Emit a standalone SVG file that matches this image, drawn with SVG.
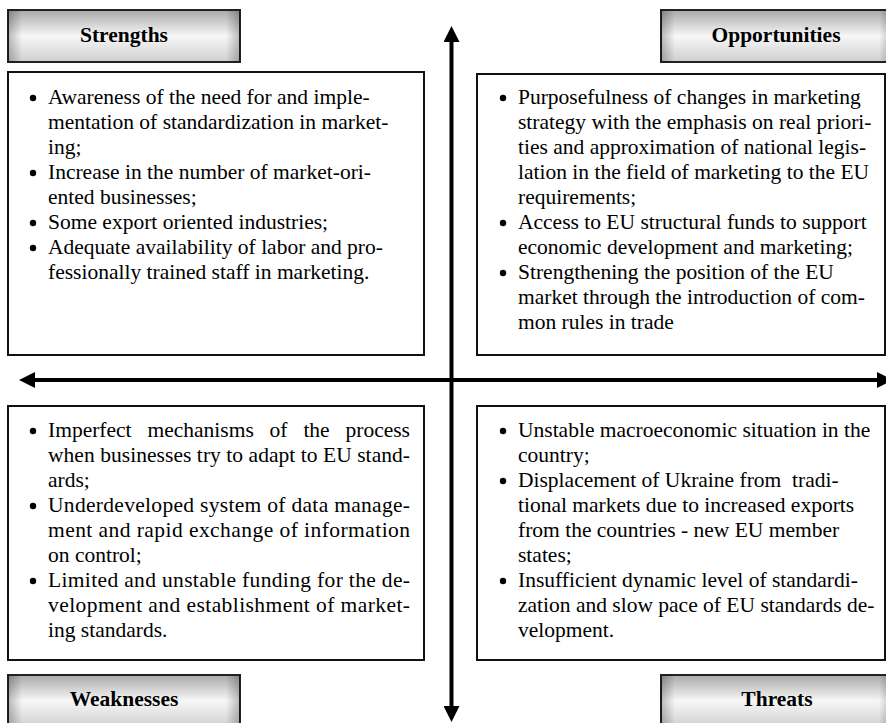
<svg xmlns="http://www.w3.org/2000/svg" width="886" height="723" viewBox="0 0 886 723">
<style>
.box{fill:#fff;stroke:#111;stroke-width:2}
.hdr{fill:url(#hg);stroke:#222;stroke-width:2}
.ht{font-family:"Liberation Serif","Times New Roman",serif;font-size:21.5px;font-weight:bold;fill:#000;text-anchor:middle}
.t{font-family:"Liberation Serif","Times New Roman",serif;font-size:21.5px;fill:#000}
.ax{stroke:#000;stroke-width:4;fill:none}
</style>
<defs>
<linearGradient id="hg" x1="0" y1="0" x2="0" y2="1">
<stop offset="0" stop-color="#a9a9a9"/>
<stop offset="0.5" stop-color="#f7f7f7"/>
<stop offset="1" stop-color="#cfcfcf"/>
</linearGradient>
<linearGradient id="hs" x1="0" y1="0" x2="1" y2="0">
<stop offset="0" stop-color="#000" stop-opacity="0.25"/>
<stop offset="0.06" stop-color="#000" stop-opacity="0"/>
<stop offset="0.94" stop-color="#000" stop-opacity="0"/>
<stop offset="1" stop-color="#000" stop-opacity="0.25"/>
</linearGradient>
<marker id="ah" viewBox="0 0 16 16" refX="0" refY="8" markerWidth="16" markerHeight="16" markerUnits="userSpaceOnUse" orient="auto-start-reverse">
<path d="M0,0 L16,8 L0,16 z" fill="#000"/>
</marker>
<circle id="b" r="3.2" fill="#000"/>
</defs>
<rect width="886" height="723" fill="#fff"/>

<g id="connectors">
<line class="ax" x1="451.5" y1="42" x2="451.5" y2="706" marker-start="url(#ah)" marker-end="url(#ah)"/>
<line class="ax" x1="35" y1="380" x2="877" y2="380" marker-start="url(#ah)" marker-end="url(#ah)"/>
</g>

<g id="strengths-header">
<rect class="hdr" x="8" y="10" width="232" height="52"/>
<rect x="8" y="10" width="232" height="52" fill="url(#hs)"/>
<text class="ht" x="124" y="42">Strengths</text>
</g>
<g id="opportunities-header">
<rect class="hdr" x="661" y="10" width="232" height="52"/>
<rect x="661" y="10" width="232" height="52" fill="url(#hs)"/>
<text class="ht" x="776" y="42">Opportunities</text>
</g>
<g id="weaknesses-header">
<rect class="hdr" x="8" y="675" width="232" height="52"/>
<rect x="8" y="675" width="232" height="52" fill="url(#hs)"/>
<text class="ht" x="124" y="706">Weaknesses</text>
</g>
<g id="threats-header">
<rect class="hdr" x="661" y="675" width="232" height="52"/>
<rect x="661" y="675" width="232" height="52" fill="url(#hs)"/>
<text class="ht" x="777" y="706">Threats</text>
</g>

<g id="strengths">
<rect class="box" x="8" y="72" width="416" height="283"/>
<use href="#b" x="33" y="98"/>
<use href="#b" x="33" y="173"/>
<use href="#b" x="33" y="223"/>
<use href="#b" x="33" y="248"/>
<text class="t" x="48" y="104">Awareness of the need for and imple-</text>
<text class="t" x="48" y="129">mentation of standardization in market-</text>
<text class="t" x="48" y="154">ing;</text>
<text class="t" x="48" y="179">Increase in the number of market-ori-</text>
<text class="t" x="48" y="204">ented businesses;</text>
<text class="t" x="48" y="229">Some export oriented industries;</text>
<text class="t" x="48" y="254">Adequate availability of labor and pro-</text>
<text class="t" x="48" y="279">fessionally trained staff in marketing.</text>
</g>

<g id="opportunities">
<rect class="box" x="477" y="74" width="408" height="281"/>
<use href="#b" x="503" y="98"/>
<use href="#b" x="503" y="223"/>
<use href="#b" x="503" y="273"/>
<text class="t" x="518" y="104">Purposefulness of changes in marketing</text>
<text class="t" x="518" y="129">strategy with the emphasis on real priori-</text>
<text class="t" x="518" y="154">ties and approximation of national legis-</text>
<text class="t" x="518" y="179">lation in the field of marketing to the EU</text>
<text class="t" x="518" y="204">requirements;</text>
<text class="t" x="518" y="229">Access to EU structural funds to support</text>
<text class="t" x="518" y="254">economic development and marketing;</text>
<text class="t" x="518" y="279">Strengthening the position of the EU</text>
<text class="t" x="518" y="304">market through the introduction of com-</text>
<text class="t" x="518" y="329">mon rules in trade</text>
</g>

<g id="weaknesses">
<rect class="box" x="8" y="406" width="416" height="254"/>
<use href="#b" x="33" y="431"/>
<use href="#b" x="33" y="506"/>
<use href="#b" x="33" y="581"/>
<text class="t" y="437"><tspan x="48">Imperfect</tspan><tspan x="147.5">mechanisms</tspan><tspan x="269.6">of</tspan><tspan x="303.4">the</tspan><tspan x="345.5">process</tspan></text>
<text class="t" x="48" y="462" textLength="362" lengthAdjust="spacing">when businesses try to adapt to EU stand-</text>
<text class="t" x="48" y="487">ards;</text>
<text class="t" x="48" y="512" textLength="362" lengthAdjust="spacing">Underdeveloped system of data manage-</text>
<text class="t" x="48" y="537" textLength="362" lengthAdjust="spacing">ment and rapid exchange of information</text>
<text class="t" x="48" y="562">on control;</text>
<text class="t" x="48" y="587" textLength="362" lengthAdjust="spacing">Limited and unstable funding for the de-</text>
<text class="t" x="48" y="612" textLength="362" lengthAdjust="spacing">velopment and establishment of market-</text>
<text class="t" x="48" y="637">ing standards.</text>
</g>

<g id="threats">
<rect class="box" x="477" y="406" width="408" height="254"/>
<use href="#b" x="503" y="431"/>
<use href="#b" x="503" y="481"/>
<use href="#b" x="503" y="581"/>
<text class="t" x="518" y="437">Unstable macroeconomic situation in the</text>
<text class="t" x="518" y="462">country;</text>
<text class="t" x="518" y="487" xml:space="preserve">Displacement of Ukraine from  tradi-</text>
<text class="t" x="518" y="512">tional markets due to increased exports</text>
<text class="t" x="518" y="537">from the countries - new EU member</text>
<text class="t" x="518" y="562">states;</text>
<text class="t" x="518" y="587">Insufficient dynamic level of standardi-</text>
<text class="t" x="518" y="612">zation and slow pace of EU standards de-</text>
<text class="t" x="518" y="637">velopment.</text>
</g>
</svg>
